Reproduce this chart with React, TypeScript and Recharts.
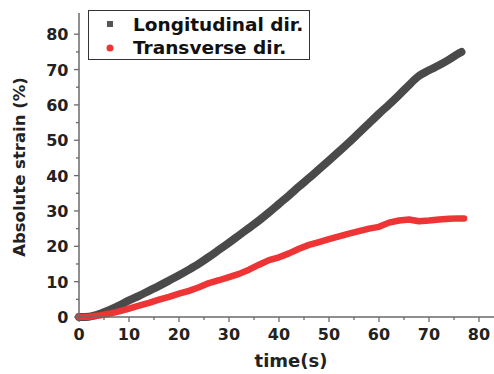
import { LineChart, Line, XAxis, YAxis, Label } from "recharts";

const longTime = [0, 2, 4, 6, 8, 10, 12, 14, 16, 18, 20, 22, 24, 26, 28, 30, 32, 34, 36, 38, 40, 42, 44, 46, 48, 50, 52, 54, 56, 58, 60, 62, 64, 66, 67, 68, 70, 72, 74, 76, 76.5];
const longStrain = [0, 0.1, 0.8, 1.9, 3.2, 4.7, 6.0, 7.4, 8.8, 10.3, 11.8, 13.4, 15.1, 17.0, 19.0, 21.0, 23.1, 25.2, 27.3, 29.6, 32.0, 34.4, 36.9, 39.3, 41.8, 44.3, 46.8, 49.4, 52.1, 54.8, 57.5, 60.1, 62.8, 65.6, 67.0, 68.2, 69.8, 71.2, 72.8, 74.6, 75.0];

const transTime = [0, 2, 4, 6, 8, 10, 12, 14, 16, 18, 20, 22, 24, 26, 28, 30, 32, 34, 36, 38, 40, 42, 44, 46, 48, 50, 52, 54, 56, 58, 60, 62, 64, 66, 68, 70, 72, 74, 76, 77];
const transStrain = [0, 0.1, 0.4, 0.9, 1.6, 2.4, 3.2, 4.0, 4.9, 5.7, 6.6, 7.4, 8.4, 9.6, 10.4, 11.3, 12.2, 13.4, 14.8, 16.1, 16.9, 18.0, 19.3, 20.4, 21.2, 22.0, 22.8, 23.6, 24.3, 25.0, 25.5, 26.7, 27.3, 27.6, 27.1, 27.3, 27.6, 27.8, 27.9, 27.9];

const xTicks = [0, 5, 10, 15, 20, 25, 30, 35, 40, 45, 50, 55, 60, 65, 70, 75, 80];
const yTicks = [0, 5, 10, 15, 20, 25, 30, 35, 40, 45, 50, 55, 60, 65, 70, 75, 80];

const longData = longTime.map((t, i) => ({ t, v: longStrain[i] }));
const transData = transTime.map((t, i) => ({ t, v: transStrain[i] }));

const FONT = "'DejaVu Sans', sans-serif";
const AXIS = "#6a6a6a";
const DARK = "#4a4a4a";
const RED = "#ee3434";

function XTick(props: any) {
  const { x, y, payload } = props;
  const major = payload.value % 10 === 0;
  return (
    <g>
      <line x1={x} x2={x} y1={y} y2={y + (major ? 5 : 3)} stroke={AXIS} strokeWidth={1.3} />
      {major && (
        <text x={x} y={y + 23} textAnchor="middle" fontFamily={FONT} fontWeight="bold" fontSize={16} fill="#222">
          {payload.value}
        </text>
      )}
    </g>
  );
}

function YTick(props: any) {
  const { x, y, payload } = props;
  const major = payload.value % 10 === 0;
  return (
    <g>
      <line x1={x} x2={x - (major ? 5 : 3)} y1={y} y2={y} stroke={AXIS} strokeWidth={1.3} />
      {major && (
        <text x={x - 10.5} y={y + 6} textAnchor="end" fontFamily={FONT} fontWeight="bold" fontSize={16} fill="#222">
          {payload.value}
        </text>
      )}
    </g>
  );
}

function LegendBox() {
  return (
    <div
      style={{
        position: "absolute",
        left: 88,
        top: 10,
        width: 222,
        height: 50,
        border: "1px solid #333",
        background: "#fff",
        boxSizing: "border-box",
        fontFamily: FONT,
        fontWeight: "bold",
        fontSize: 18.5,
        color: "#111",
      }}
    >
      <svg width={222} height={50} style={{ position: "absolute", left: 0, top: 0 }}>
        <rect x={18} y={10} width={6} height={6} fill="#555" />
        <circle cx={21} cy={37} r={3.5} fill={RED} />
        <text x={44} y={20} fontFamily={FONT} fontWeight="bold" fontSize={18.5} fill="#111">Longitudinal dir.</text>
        <text x={44} y={43} fontFamily={FONT} fontWeight="bold" fontSize={18.5} fill="#111">Transverse dir.</text>
      </svg>
    </div>
  );
}

export default function App() {
  return (
    <div style={{ position: "absolute", left: 0, top: 0, width: 494, height: 374, background: "#fff" }}>
      <LineChart width={494} height={374} margin={{ top: 13, right: 0, bottom: 0, left: 0 }}>
        <XAxis
          type="number"
          dataKey="t"
          domain={[0, 83]}
          ticks={xTicks}
          interval={0}
          tick={<XTick />}
          tickLine={false}
          tickSize={0}
          tickMargin={0}
          height={57}
          axisLine={{ stroke: AXIS, strokeWidth: 1.5 }}
        >
          <Label
            content={() => (
              <text x={291} y={367} textAnchor="middle" fontFamily={FONT} fontWeight="bold" fontSize={18} fill="#222">
                time(s)
              </text>
            )}
          />
        </XAxis>
        <YAxis
          type="number"
          domain={[0, 86]}
          ticks={yTicks}
          interval={0}
          tick={<YTick />}
          tickLine={false}
          tickSize={0}
          tickMargin={0}
          width={79}
          axisLine={{ stroke: AXIS, strokeWidth: 1.5 }}
        >
          <Label
            content={() => (
              <text
                x={25}
                y={167}
                transform="rotate(-90 25 167)"
                textAnchor="middle"
                fontFamily={FONT}
                fontWeight="bold"
                fontSize={16.5}
                fill="#222"
              >
                Absolute strain (%)
              </text>
            )}
          />
        </YAxis>
        <Line
          data={longData}
          dataKey="v"
          type="monotone"
          stroke={DARK}
          strokeWidth={8}
          strokeLinecap="round"
          strokeLinejoin="round"
          dot={false}
          isAnimationActive={false}
        />
        <Line
          data={transData}
          dataKey="v"
          type="linear"
          stroke={RED}
          strokeWidth={6.5}
          strokeLinecap="round"
          strokeLinejoin="round"
          dot={false}
          isAnimationActive={false}
        />
      </LineChart>
      <LegendBox />
    </div>
  );
}
